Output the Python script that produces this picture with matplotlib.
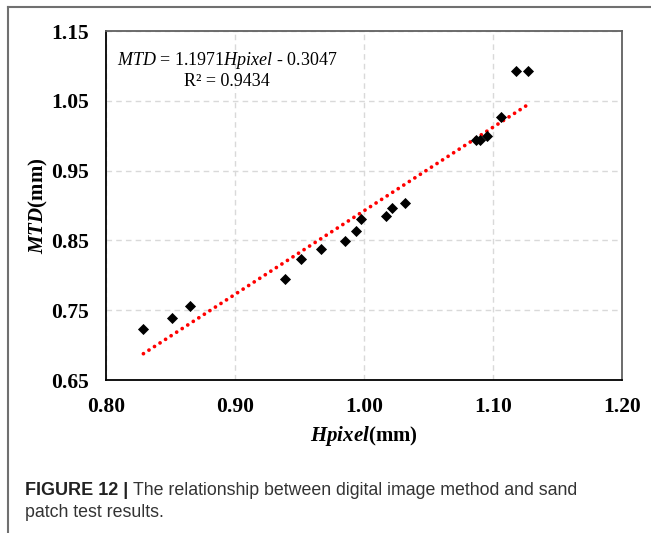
import matplotlib
matplotlib.use("Agg")
import matplotlib.pyplot as plt
from matplotlib.lines import Line2D
import numpy as np

# data
hpixel = [0.829, 0.851, 0.865, 0.939, 0.951, 0.967, 0.985, 0.994, 0.998,
          1.017, 1.022, 1.032, 1.087, 1.090, 1.095, 1.106, 1.118, 1.127]
mtd = [0.723, 0.739, 0.756, 0.795, 0.823, 0.838, 0.849, 0.864, 0.880,
       0.885, 0.896, 0.903, 0.994, 0.994, 1.000, 1.027, 1.093, 1.093]
slope = 1.1971
intercept = -0.3047
r2 = 0.9434
xticks = [0.80, 0.90, 1.00, 1.10, 1.20]
yticks = [0.65, 0.75, 0.85, 0.95, 1.05, 1.15]

plt.rcParams['mathtext.fontset'] = 'custom'
plt.rcParams['mathtext.rm'] = 'Liberation Serif'
plt.rcParams['mathtext.it'] = 'Liberation Serif:italic'
plt.rcParams['mathtext.bf'] = 'Liberation Serif:bold'
plt.rcParams['mathtext.bfit'] = 'Liberation Serif:bold:italic'

W, H = 651, 533
fig = plt.figure(figsize=(W/100, H/100), dpi=100)
ax = fig.add_axes([106/W, 1 - 380/H, 516/W, 349/H])

ax.scatter(hpixel, mtd, marker='D', s=32, color='black', zorder=3, linewidths=0)
xs = np.array([min(hpixel), max(hpixel)])
ax.plot(xs, slope*xs + intercept, color='red', lw=2.7,
        linestyle=(0, (0.01, 1.75)), dash_capstyle='round', zorder=2)

ax.set_xlim(0.80, 1.20)
ax.set_ylim(0.65, 1.15)
ax.set_xticks(xticks)
ax.set_yticks(yticks)
ax.set_xticklabels(["%.2f" % v for v in xticks])
ax.set_yticklabels(["%.2f" % v for v in yticks])
for lab in ax.get_xticklabels() + ax.get_yticklabels():
    lab.set_fontfamily('Liberation Serif')
    lab.set_fontweight('bold')
    lab.set_fontsize(15.5)
ax.tick_params(length=0, pad=12)
ax.grid(True, color='#d9d9d9', linestyle=(0, (4, 3)), lw=1)
ax.set_axisbelow(True)
for s in ['left', 'bottom']:
    ax.spines[s].set_color('black')
    ax.spines[s].set_linewidth(1.3)
for s in ['top', 'right']:
    ax.spines[s].set_color('#606060')
    ax.spines[s].set_linewidth(1.3)

ax.set_xlabel(r"$\mathbfit{Hpixel}$(mm)", fontfamily='Liberation Serif',
              fontweight='bold', fontsize=15, labelpad=5)
ax.set_ylabel(r"$\mathbfit{MTD}$(mm)", fontfamily='Liberation Serif',
              fontweight='bold', fontsize=15, labelpad=1)

ax.text(0.235, 0.915, r"$\mathit{MTD}$ = 1.1971$\mathit{Hpixel}$ - 0.3047",
        transform=ax.transAxes, ha='center', va='center',
        fontfamily='Liberation Serif', fontsize=13)
ax.text(0.235, 0.855, "R² = 0.9434", transform=ax.transAxes,
        ha='center', va='center', fontfamily='Liberation Serif', fontsize=13)

# outer frame (top and left)
fig.add_artist(Line2D([8/W, 1], [1 - 7/H, 1 - 7/H], color='#707070', lw=1.5))
fig.add_artist(Line2D([8/W, 8/W], [0, 1 - 7/H], color='#707070', lw=1.5))

cap_font = ['Liberation Sans', 'DejaVu Sans']
t = fig.text(25/W, 1 - 495/H, "FIGURE 12 | ", fontfamily=cap_font,
             fontweight='bold', fontsize=13, va='baseline', ha='left',
             color='#222222')
fig.canvas.draw()
bb = t.get_window_extent()
fig.text(bb.x1/W, 1 - 495/H,
         "The relationship between digital image method and sand",
         fontfamily=cap_font, fontsize=12.8, va='baseline', ha='left',
         color='#333333')
fig.text(25/W, 1 - 517/H, "patch test results.", fontfamily=cap_font,
         fontsize=12.8, va='baseline', ha='left', color='#333333')

fig.savefig("out.png", dpi=100)
